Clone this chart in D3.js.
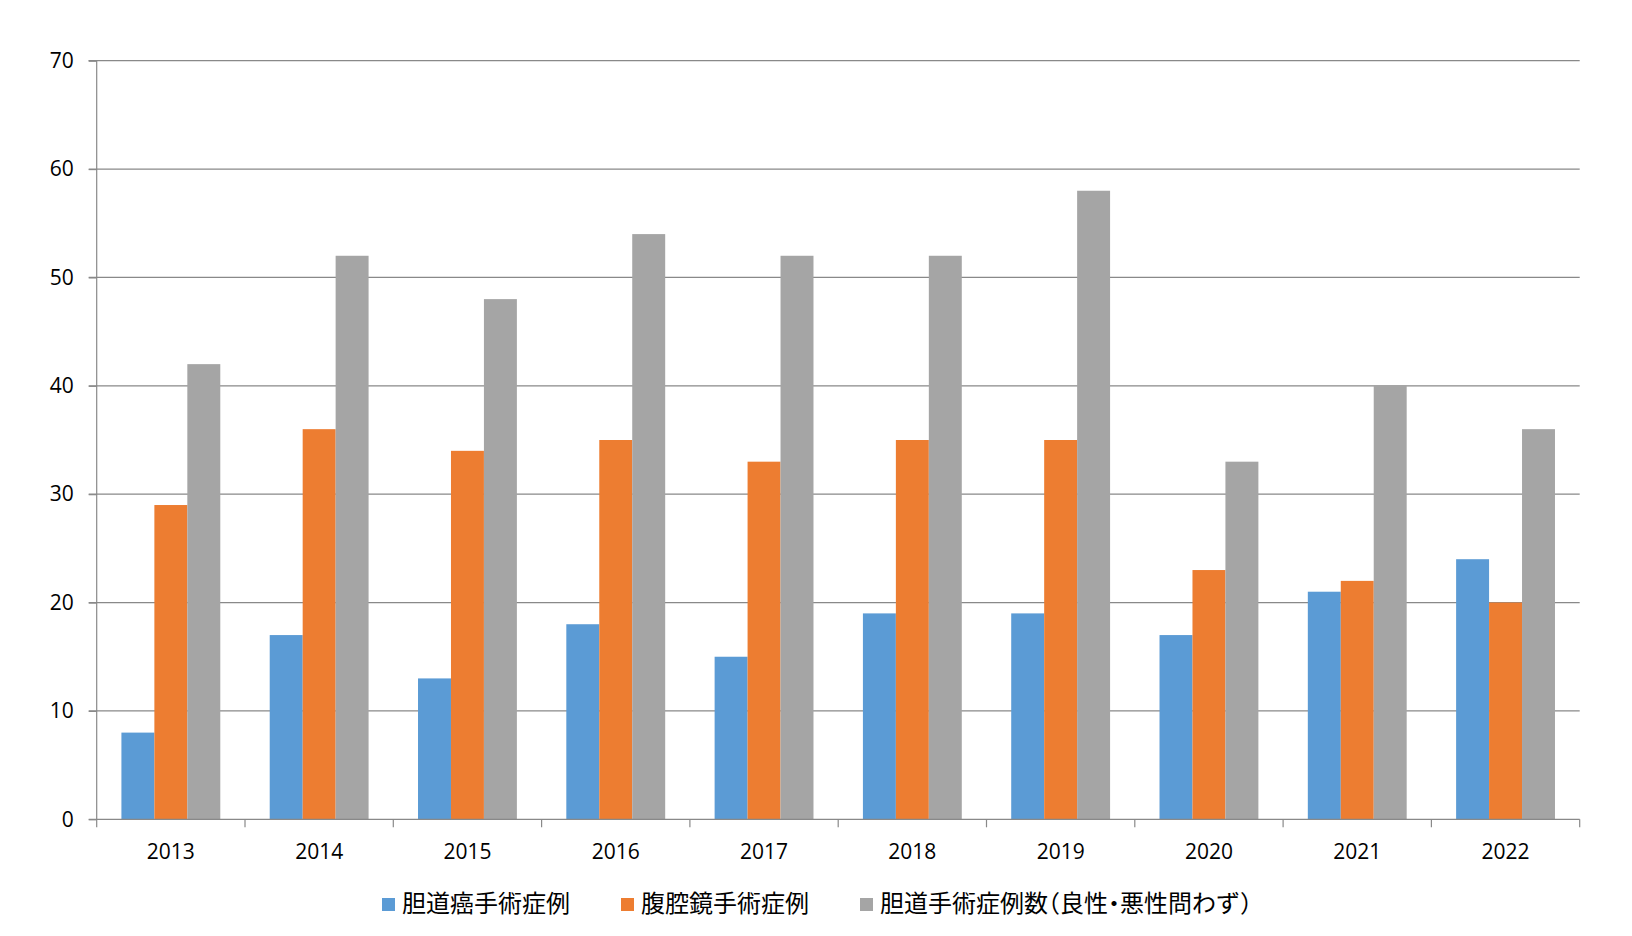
<!DOCTYPE html>
<html>
<head>
<meta charset="utf-8">
<script src="https://cdn.jsdelivr.net/npm/d3@7"></script>
<style>
  html, body { margin: 0; padding: 0; background: #fff; }
  svg { display: block; }
</style>
</head>
<body>
<svg id="chart" width="1632" height="936"></svg>
<script>
const years = ["2013","2014","2015","2016","2017","2018","2019","2020","2021","2022"];
const seriesNames = ["胆道癌手術症例", "腹腔鏡手術症例", "胆道手術症例数（良性・悪性問わず）"];
const cancerCases = [8, 17, 13, 18, 15, 19, 19, 17, 21, 24];
const laparoscopicCases = [29, 36, 34, 35, 33, 35, 35, 23, 22, 20];
const biliaryTotal = [42, 52, 48, 54, 52, 52, 58, 33, 40, 36];
const yTicks = [0, 10, 20, 30, 40, 50, 60, 70];
const colors = ["#5B9BD5", "#ED7D31", "#A5A5A5"];

const seriesValues = [cancerCases, laparoscopicCases, biliaryTotal];

(function () {
const svg = d3.select("#chart");
const plotLeft = 96.7, plotRight = 1579.7, plotTop = 60.7, plotBottom = 819.3;
const axisColor = "#898989";
const numFont = "'Open Sans', 'Liberation Sans', sans-serif";

const x = d3.scaleBand().domain(years).range([plotLeft, plotRight]).paddingInner(0).paddingOuter(0);
const xs = d3.scaleBand().domain(d3.range(3)).range([0, x.bandwidth()]).paddingInner(0).paddingOuter(0.75);
const y = d3.scaleLinear().domain([0, 70]).range([plotBottom, plotTop]);

// gridlines
svg.append("g").selectAll("line").data(yTicks.filter(d => d > 0)).join("line")
  .attr("x1", plotLeft - 8).attr("x2", plotRight)
  .attr("y1", d => y(d)).attr("y2", d => y(d))
  .attr("stroke", axisColor).attr("stroke-width", 1.2);

// bars
const table = years.map((yr, i) => ({ year: yr, values: seriesValues.map(s => s[i]) }));
const groups = svg.append("g").selectAll("g").data(table).join("g")
  .attr("transform", d => `translate(${x(d.year)},0)`);
groups.selectAll("rect").data(d => d.values.map((v, k) => ({ k, v }))).join("rect")
  .attr("x", d => xs(d.k))
  .attr("width", xs.bandwidth())
  .attr("y", d => y(d.v))
  .attr("height", d => y(0) - y(d.v))
  .attr("fill", d => colors[d.k]);

// y axis
const yAxis = d3.axisLeft(y).tickValues(yTicks).tickSize(8).tickPadding(15).tickFormat(d3.format("d"));
const gy = svg.append("g").attr("transform", `translate(${plotLeft},0)`).call(yAxis);
gy.select(".domain").attr("stroke", axisColor).attr("stroke-width", 1.2).attr("d", `M-8,${plotTop}H0V${plotBottom}`);
gy.selectAll(".tick line").attr("stroke", axisColor).attr("stroke-width", 1.2);
gy.selectAll(".tick text").attr("font-family", numFont).attr("font-size", 21).attr("fill", "#000");

// x axis
const gx = svg.append("g").attr("transform", `translate(0,${plotBottom})`);
gx.append("line").attr("x1", plotLeft - 8).attr("x2", plotRight).attr("y1", 0).attr("y2", 0)
  .attr("stroke", axisColor).attr("stroke-width", 1.2);
const boundaries = years.map(d => x(d)).concat([plotRight]);
gx.selectAll("line.tk").data(boundaries).join("line").attr("class", "tk")
  .attr("x1", d => d).attr("x2", d => d).attr("y1", 0).attr("y2", 8)
  .attr("stroke", axisColor).attr("stroke-width", 1.2);
gx.selectAll("text").data(years).join("text")
  .attr("x", d => x(d) + x.bandwidth() / 2)
  .attr("y", 40)
  .attr("text-anchor", "middle")
  .attr("font-family", numFont).attr("font-size", 21).attr("fill", "#000")
  .text(d => d);

// legend
const legend = svg.append("g");
let lx = 382;
seriesNames.forEach((name, k) => {
  legend.append("rect").attr("x", lx).attr("y", 898).attr("width", 13).attr("height", 13).attr("fill", colors[k]);
  const t = legend.append("text").attr("x", lx + 20).attr("y", 901)
    .attr("dominant-baseline", "central")
    .attr("font-family", "'Noto Sans CJK JP', sans-serif").attr("font-size", 24).attr("fill", "#000")
    .style("font-feature-settings", "'halt' 1")
    .text(name);
  const w = t.node().getComputedTextLength();
  lx += 20 + w + 51;
});
})();
</script>
</body>
</html>
